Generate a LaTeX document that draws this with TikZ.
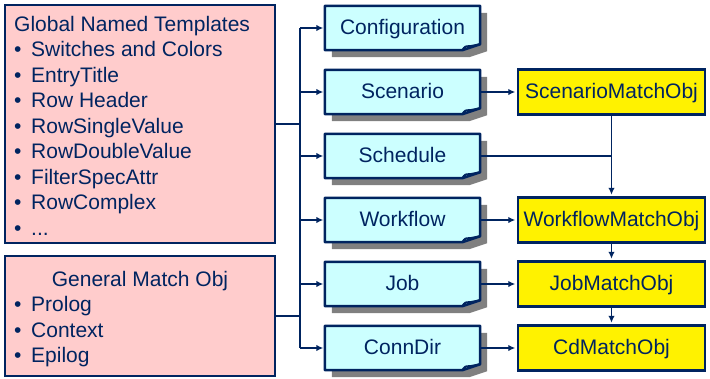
\documentclass[tikz,border=0pt]{standalone}
\usepackage{fontspec}
\setmainfont{Liberation Sans}
\usetikzlibrary{arrows.meta}
\pgfdeclarelayer{bg}
\pgfsetlayers{bg,main}
\definecolor{navy}{RGB}{0,36,96}
\definecolor{pinkfill}{RGB}{255,204,204}
\definecolor{cyanfill}{RGB}{204,255,255}
\definecolor{shadowgray}{RGB}{128,128,128}
\newcommand\mybullet{\makebox[17pt][l]{•}}
\begin{document}
\begin{tikzpicture}[x=1pt,y=-1pt,
 every node/.style={text=navy, font=\fontsize{21}{24}\selectfont},
 pinkbox/.style={draw=navy, line width=2.5pt, fill=pinkfill, inner sep=0pt},
 notebox/.style={minimum width=155pt, minimum height=44pt, inner sep=0pt, text height=13pt, text depth=0pt},
 matchbox/.style={draw=navy, line width=2.5pt, fill=yellow, minimum width=187pt, minimum height=45pt, inner sep=0pt, text height=13pt, text depth=0pt},
 conn/.style={draw=navy, line width=1.5pt},
 arr/.style={conn, -{Latex[length=7pt,width=6.5pt]}, shorten >=1.5pt},
 lineitem/.style={anchor=base west, inner sep=0pt}
]
\useasboundingbox (0,0) rectangle (710,378);

% left pink boxes
\node[pinkbox, minimum width=270pt, minimum height=238pt] (glob) at (140,124) {};
\node[lineitem] (g0) at (14,31) {Global Named Templates};
\node[lineitem] (g1) at (14,56.5) {\mybullet Switches and Colors};
\node[lineitem] (g2) at (14,82) {\mybullet EntryTitle};
\node[lineitem] (g3) at (14,107.5) {\mybullet Row Header};
\node[lineitem] (g4) at (14,133) {\mybullet RowSingleValue};
\node[lineitem] (g5) at (14,158.5) {\mybullet RowDoubleValue};
\node[lineitem] (g6) at (14,184) {\mybullet FilterSpecAttr};
\node[lineitem] (g7) at (14,209.5) {\mybullet RowComplex};
\node[lineitem] (g8) at (14,235) {\mybullet ...};

\node[pinkbox, minimum width=270pt, minimum height=120pt] (gen) at (140,316) {};
\node[anchor=base, inner sep=0pt] (gen0) at (140,286) {General Match Obj};
\node[lineitem] (gen1) at (14,311.5) {\mybullet Prolog};
\node[lineitem] (gen2) at (14,337) {\mybullet Context};
\node[lineitem] (gen3) at (14,362.5) {\mybullet Epilog};

% note boxes
\node[notebox] (cfg) at (402.5,28) {Configuration};
\node[notebox] (scn) at (402.5,92) {Scenario};
\node[notebox] (sch) at (402.5,156) {Schedule};
\node[notebox] (wf)  at (402.5,220) {Workflow};
\node[notebox] (job) at (402.5,284) {Job};
\node[notebox] (cd)  at (402.5,348) {ConnDir};

% match boxes
\node[matchbox] (smo) at (611.5,92) {ScenarioMatchObj};
\node[matchbox] (wmo) at (611.5,220) {WorkflowMatchObj};
\node[matchbox] (jmo) at (611.5,284) {JobMatchObj};
\node[matchbox] (cdm) at (611.5,348) {CdMatchObj};

\begin{pgfonlayer}{bg}
\foreach \n in {cfg,scn,sch,wf,job,cd}{
  \fill[shadowgray] ([shift={(7,7)}]\n.north west) -- ([shift={(7,7)}]\n.north east)
     -- ([shift={(7,1)}]\n.south east) -- ([shift={(-11,7)}]\n.south east)
     -- ([shift={(7,7)}]\n.south west) -- cycle;
  \filldraw[fill=cyanfill, draw=navy, line width=2.5pt, line join=round]
     (\n.north west) -- (\n.north east) -- ([shift={(0,-6)}]\n.south east)
     -- ([shift={(-18,0)}]\n.south east) -- (\n.south west) -- cycle;
  \draw[navy, line width=2pt] ([shift={(-18,0)}]\n.south east)
     .. controls ([shift={(-15,-4)}]\n.south east) .. ([shift={(-10,-4)}]\n.south east)
     -- ([shift={(0,-6)}]\n.south east);
}
\end{pgfonlayer}

% connectors
\coordinate (bus) at (300,0);
\draw[conn] (glob.east) -- (glob.east -| bus);
\draw[conn] (gen.east) -- (gen.east -| bus);
\draw[conn] (bus |- cfg.west) -- (bus |- cd.west);
\foreach \n in {cfg,scn,sch,wf,job,cd}{
  \draw[arr] (bus |- \n.west) -- (\n.west);
}
\draw[arr] (scn.east) -- (smo.west);
\draw[arr] (wf.east) -- (wmo.west);
\draw[arr] (job.east) -- (jmo.west);
\draw[arr] (cd.east) -- (cdm.west);
\coordinate (jn) at (smo.south |- sch.east);
\draw[conn] (sch.east) -- (jn);
\draw[arr] (smo.south) -- (wmo.north);
\draw[arr] (wmo.south) -- (jmo.north);
\draw[arr] (jmo.south) -- (cdm.north);
\end{tikzpicture}
\end{document}
